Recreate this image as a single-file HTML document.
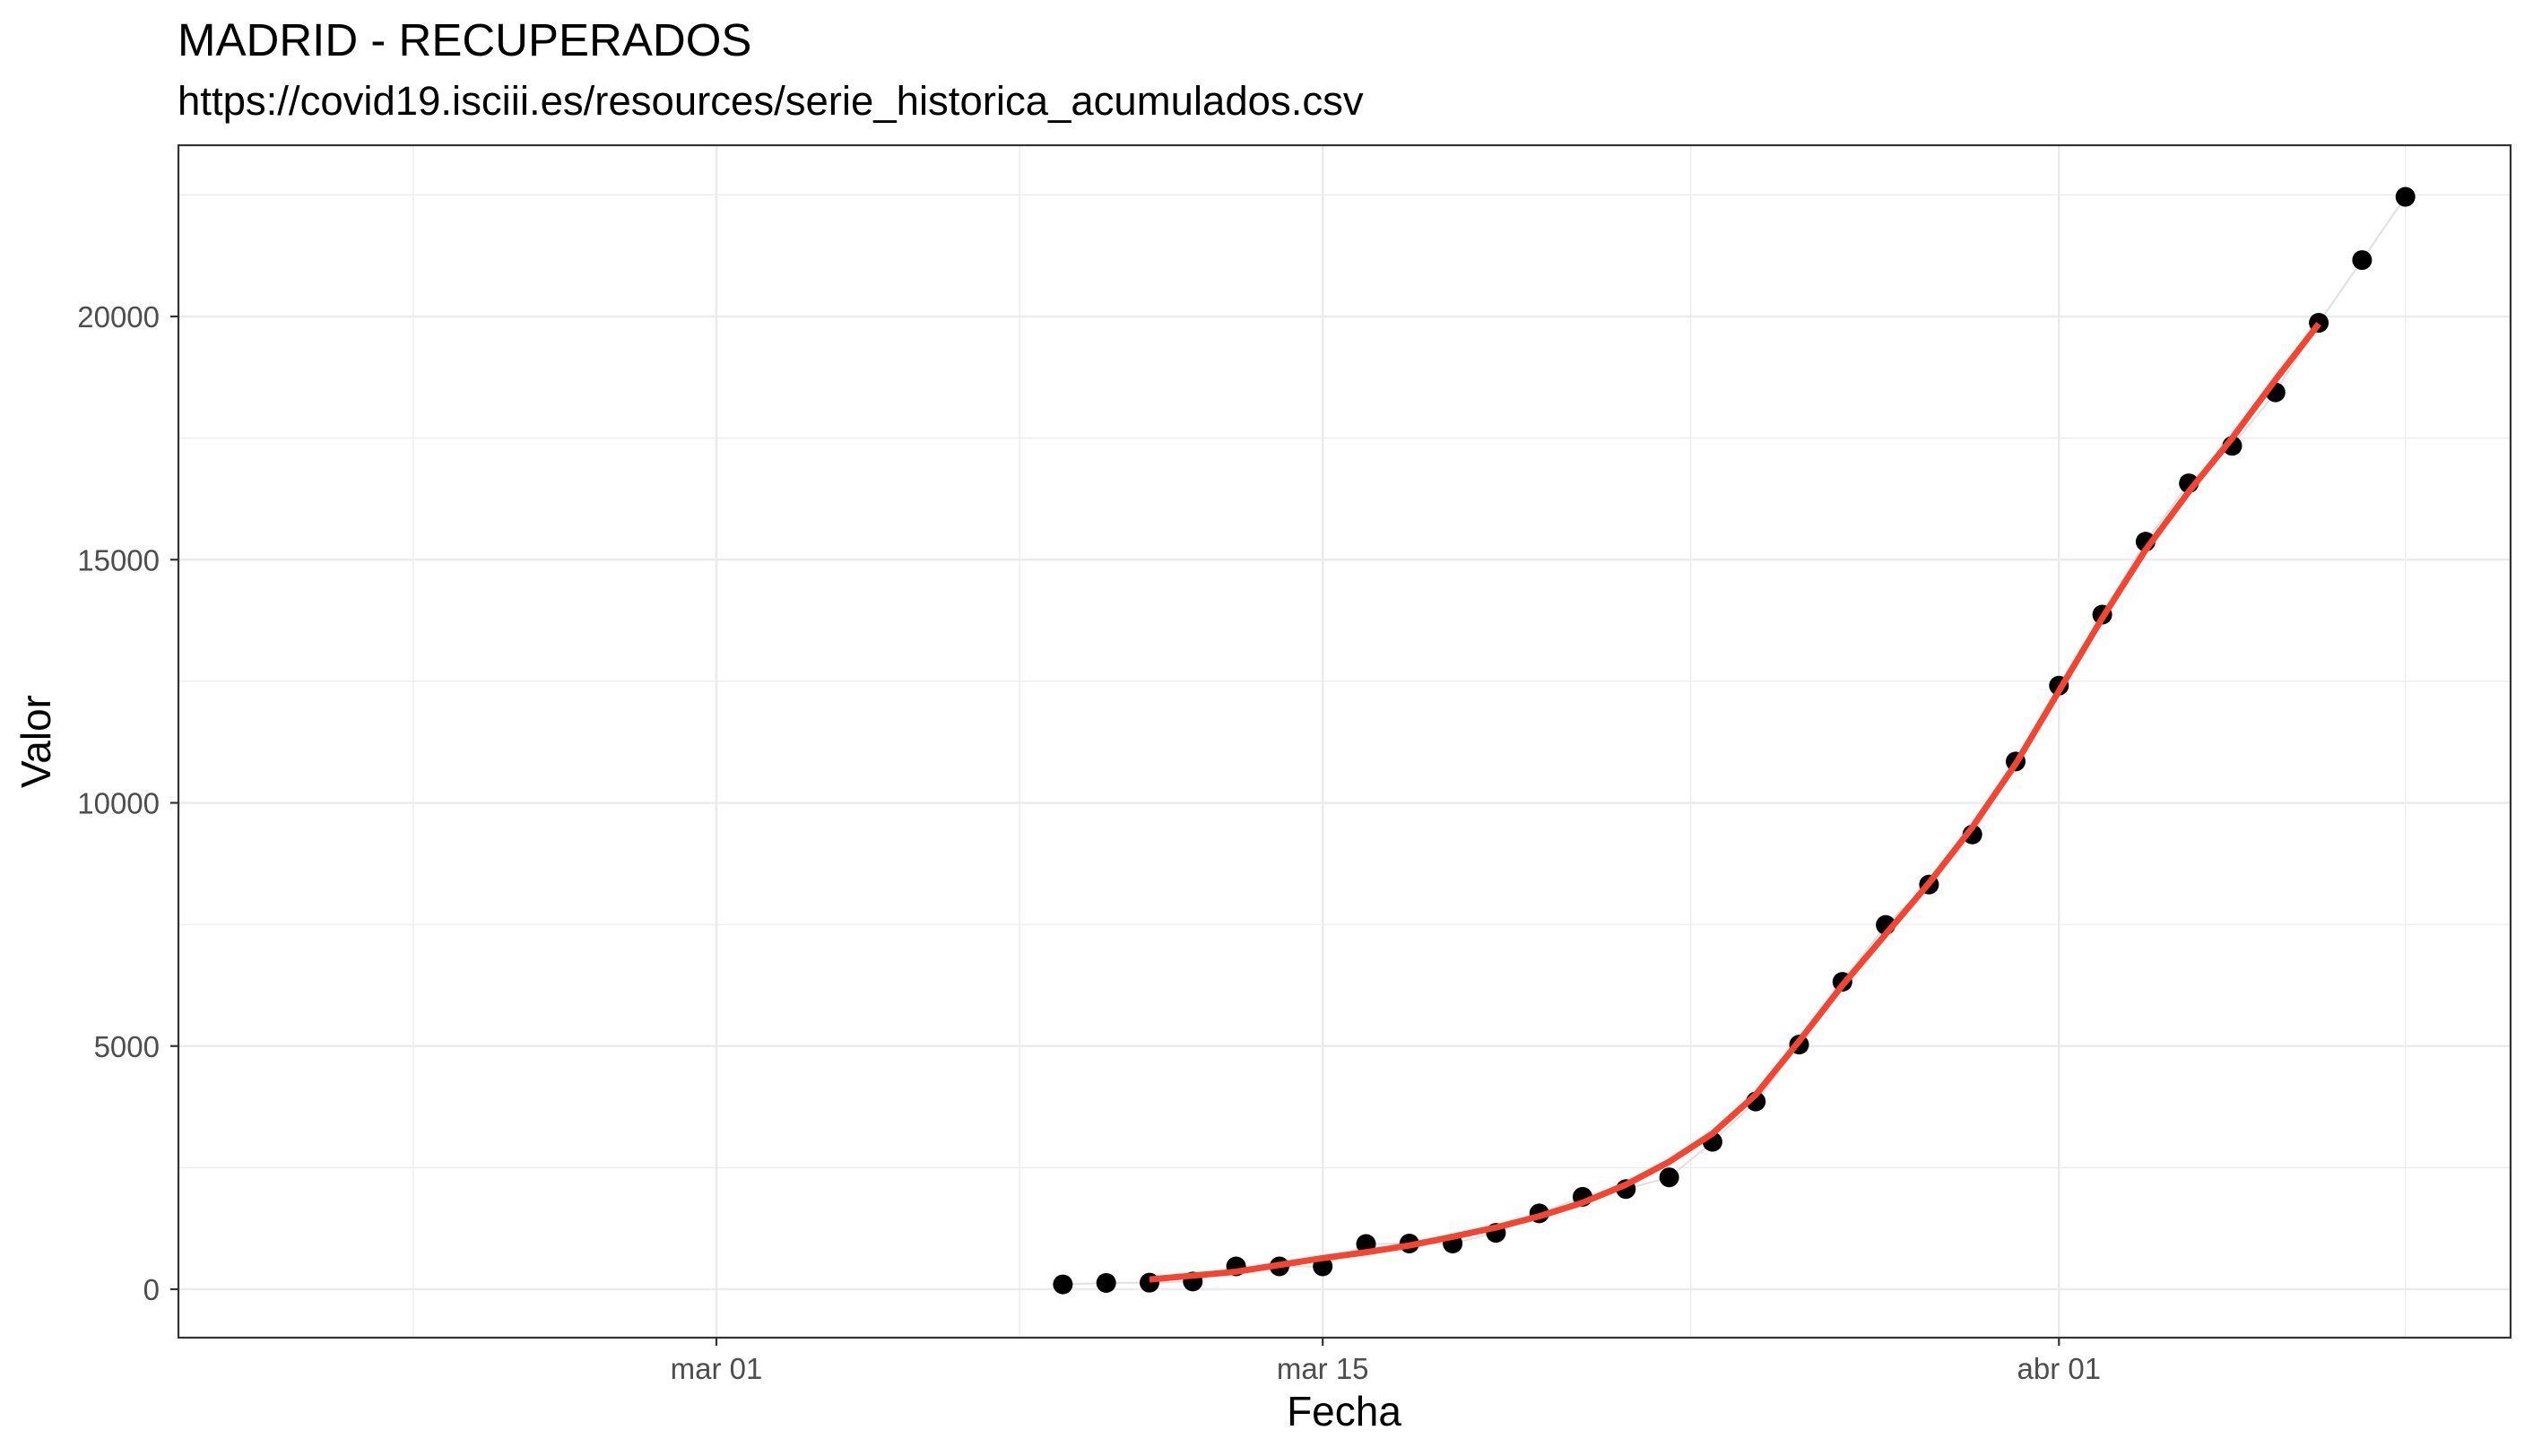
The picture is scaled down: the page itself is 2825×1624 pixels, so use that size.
<!DOCTYPE html>
<html><head><meta charset="utf-8"><style>
html,body{margin:0;padding:0;background:#fff;}
svg{display:block;font-family:"Liberation Sans",Arial,sans-serif;}
</style></head><body>
<svg id="chart" width="2825" height="1624" viewBox="0 0 2825 1624">
<text x="198" y="62" font-size="51" fill="#000">MADRID - RECUPERADOS</text>
<text x="198" y="128" font-size="45.5" fill="#000">https://covid19.isciii.es/resources/serie_historica_acumulados.csv</text>
<g id="grid"></g>
<g id="series"></g>
<rect x="199" y="162" width="2601" height="1330" fill="none" stroke="#333" stroke-width="2.2"/>
<g id="axes"></g>
<text x="1499" y="1590" font-size="46" text-anchor="middle" fill="#000">Fecha</text>
<text transform="translate(56,827) rotate(-90)" font-size="46" text-anchor="middle" fill="#000">Valor</text>
</svg>
<script>
// Data: day index (0 = mar 01)
const pointDays = [8,9,10,11,12,13,14,15,16,17,18,19,20,21,22,23,24,25,26,27,28,29,30,31,32,33,34,35,36,37,38,39];
const pointValues = [100,130,135,160,470,470,470,930,940,940,1160,1560,1900,2060,2300,3030,3860,5030,6320,7490,8320,9350,10850,12410,13870,15370,16570,17340,18440,19870,21160,22460];
const smoothDays = [10,11,12,13,14,15,16,17,18,19,20,21,22,23,24,25,26,27,28,29,30,31,32,33,34,35,36,37];
const smoothValues = [200,280,360,500,640,760,900,1080,1270,1500,1780,2150,2620,3200,4000,5100,6250,7300,8350,9500,10800,12300,13800,15200,16400,17500,18700,19850];
const xTickDays = [0,14,31];
const xTickLabels = ["mar 01","mar 15","abr 01"];
const xMinorDays = [-7,7,22.5,39];
const yTicks = [0,5000,10000,15000,20000];
const yMinor = [2500,7500,12500,17500,22500];

const NS="http://www.w3.org/2000/svg";
const X0=799, DX=48.3, Y0=1438, DY=1085/20000;
const xs=d=>X0+d*DX, ys=v=>Y0-v*DY;
function mk(tag,attrs,parent){const e=document.createElementNS(NS,tag);for(const k in attrs)e.setAttribute(k,attrs[k]);parent.appendChild(e);return e;}
const grid=document.getElementById('grid'), series=document.getElementById('series'), axes=document.getElementById('axes');

yMinor.forEach(v=>{const l=mk('line',{x1:199,x2:2800,y1:ys(v),y2:ys(v),stroke:'#ebebeb','stroke-width':1.3},grid);

});
xMinorDays.forEach(d=>{const l=mk('line',{x1:xs(d),x2:xs(d),y1:162,y2:1492,stroke:'#ebebeb','stroke-width':1.3},grid);

});
yTicks.forEach(v=>{const l=mk('line',{x1:199,x2:2800,y1:ys(v),y2:ys(v),stroke:'#ebebeb','stroke-width':2.6},grid);


const t=mk('line',{x1:190,x2:199,y1:ys(v),y2:ys(v),stroke:'#333','stroke-width':2.2},axes);


const tx=mk('text',{x:178,y:ys(v)+12,'font-size':33,'text-anchor':'end',fill:'#4d4d4d'},axes);tx.textContent=v;

});
xTickDays.forEach((d,i)=>{const l=mk('line',{x1:xs(d),x2:xs(d),y1:162,y2:1492,stroke:'#ebebeb','stroke-width':2.6},grid);


const t=mk('line',{x1:xs(d),x2:xs(d),y1:1492,y2:1501,stroke:'#333','stroke-width':2.2},axes);


const tx=mk('text',{x:xs(d),y:1538,'font-size':33,'text-anchor':'middle',fill:'#4d4d4d'},axes);tx.textContent=xTickLabels[i];

});

const gl=mk('polyline',{points:pointDays.map((d,i)=>xs(d)+','+ys(pointValues[i])).join(' '),fill:'none',stroke:'#e0e0e0','stroke-width':2},series);


pointDays.forEach((d,i)=>{const c=mk('circle',{cx:xs(d),cy:ys(pointValues[i]),r:11,fill:'#000'},series);

});
const rl=mk('polyline',{points:smoothDays.map((d,i)=>xs(d)+','+ys(smoothValues[i])).join(' '),fill:'none',stroke:'#f44432','stroke-width':7,'stroke-linejoin':'round'},series);


</script>
</body></html>
